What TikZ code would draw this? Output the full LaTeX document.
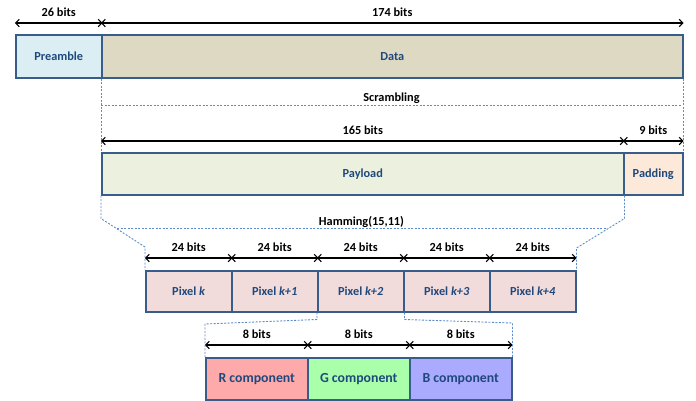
\documentclass[tikz,border=0pt]{standalone}
\usepackage{fontspec}
\setmainfont{Carlito}
\usetikzlibrary{arrows.meta}

\definecolor{boxline}{HTML}{385D8A}
\definecolor{boxtext}{HTML}{1F497D}
\definecolor{guide}{HTML}{5B8BC9}
\definecolor{prefill}{HTML}{DAEEF3}
\definecolor{datafill}{HTML}{DDD9C3}
\definecolor{payfill}{HTML}{EBF1DE}
\definecolor{padfill}{HTML}{FDE9D9}
\definecolor{pixfill}{HTML}{F2DCDB}
\definecolor{rfill}{HTML}{FFAAAA}
\definecolor{gfill}{HTML}{AAFFAA}
\definecolor{bfill}{HTML}{AAAAFF}

\tikzset{
  field/.style={draw=boxline,line width=1.5pt,text=boxtext,font=\fontsize{12.3}{14}\selectfont\bfseries,
    inner sep=0pt,anchor=north west},
  bitlen/.style={line width=1.1pt,{Straight Barb[length=3.5pt,width=7.5pt]}-{Straight Barb[length=3.5pt,width=7.5pt]}},
  bitlabel/.style={font=\fontsize{12.3}{14}\selectfont\bfseries,inner sep=0pt},
  guideline/.style={draw=guide,line width=0.9pt,dash pattern=on 2pt off 1.5pt}
}

\begin{document}
\begin{tikzpicture}[x=1pt,y=-1pt]

\useasboundingbox (0,0) rectangle (696,400) ;

% frame
\node [field,fill=prefill,minimum width=86pt,minimum height=43pt] (pre) at (15,34) {Preamble} ;
\node [field,fill=datafill,minimum width=581pt,minimum height=43pt] (data) at (101,34) {Data} ;
\draw [bitlen] ([yshift=11pt]pre.north west) -- ([yshift=11pt]pre.north east) node [bitlabel,midway,yshift=10.5pt] {26 bits} ;
\draw [bitlen] ([yshift=11pt]data.north west) -- ([yshift=11pt]data.north east) node [bitlabel,midway,yshift=10.5pt] {174 bits} ;

% scrambled data
\node [field,fill=payfill,minimum width=522pt,minimum height=42pt] (pay) at (101,152) {Payload} ;
\node [field,fill=padfill,minimum width=59pt,minimum height=42pt] (pad) at (623,152) {Padding} ;
\draw [bitlen] ([yshift=11pt]pay.north west) -- ([yshift=11pt]pay.north east) node [bitlabel,midway,yshift=10.5pt] {165 bits} ;
\draw [bitlen] ([yshift=11pt]pad.north west) -- ([yshift=11pt]pad.north east) node [bitlabel,midway,yshift=10.5pt] {9 bits} ;

\coordinate (scrL) at (101,105) ;
\coordinate (scrR) at (682,105) ;
\draw [guideline] (data.south west) -- (pay.north west) ;
\draw [guideline] (data.south east) -- (pad.north east) ;
\draw [guideline] (scrL) -- (scrR) node [bitlabel,midway,anchor=base,yshift=3.5pt,text=black] {Scrambling} ;

% pixels
\foreach \i/\t in {1/{\textit{k}},2/{\textit{k+1}},3/{\textit{k+2}},4/{\textit{k+3}},5/{\textit{k+4}}} {
  \node [field,fill=pixfill,minimum width=86pt,minimum height=41pt] (px\i) at ({145+86*(\i-1)},270) {Pixel \t} ;
  \draw [bitlen] ([yshift=12pt]px\i.north west) -- ([yshift=12pt]px\i.north east) node [bitlabel,midway,yshift=10.5pt] {24 bits} ;
}

\coordinate (hamL) at (117,228) ;
\coordinate (hamR) at (606,228) ;
\draw [guideline] (pay.south west) -- ++(0,23) -- ([yshift=23pt]px1.north west) -- (px1.north west) ;
\draw [guideline] (pay.south east) -- ++(0,23) -- ([yshift=22pt]px5.north east) -- (px5.north east) ;
\draw [guideline] (hamL) -- (hamR) node [bitlabel,midway,anchor=base,yshift=3pt,text=black] {Hamming(15,11)} ;

% colour components
\tikzset{comp/.style={field,minimum width=102pt,minimum height=42pt,font=\fontsize{13.8}{16}\selectfont\bfseries}}
\node [comp,fill=rfill] (rc) at (205,357) {R component} ;
\node [comp,fill=gfill] (gc) at (307,357) {G component} ;
\node [comp,fill=bfill] (bc) at (409,357) {B component} ;
\foreach \c in {rc,gc,bc}
  \draw [bitlen] ([yshift=12pt]\c.north west) -- ([yshift=12pt]\c.north east) node [bitlabel,midway,yshift=10.5pt] {8 bits} ;

\draw [guideline] (px3.south west) -- ++(0,7) -- ([yshift=33pt]rc.north west) -- (rc.north west) ;
\draw [guideline] (px3.south east) -- ++(0,7) -- ([yshift=34pt]bc.north east) -- (bc.north east) ;

\end{tikzpicture}
\end{document}
